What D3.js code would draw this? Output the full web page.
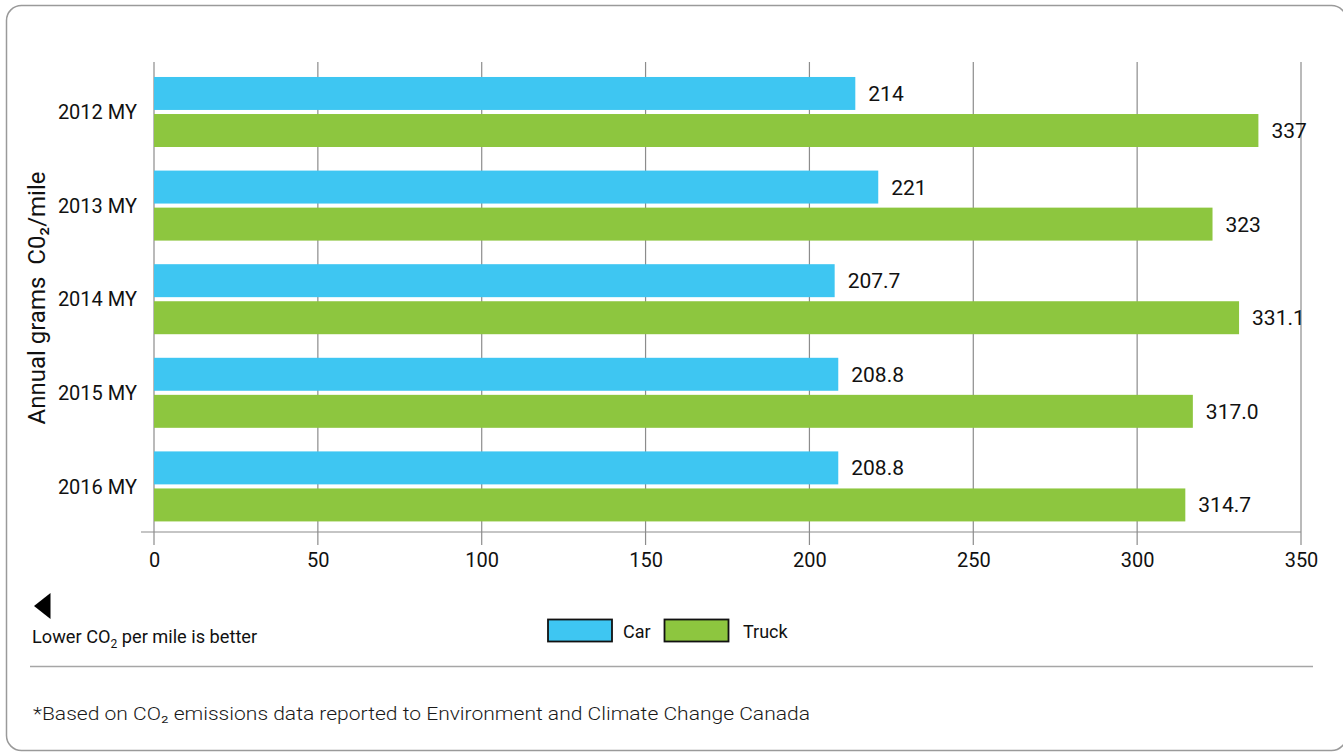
<!DOCTYPE html>
<html>
<head>
<meta charset="utf-8">
<script src="https://cdn.jsdelivr.net/npm/d3@7"></script>
<style>
  html, body { margin: 0; padding: 0; background: #fff; }
  svg { display: block; font-family: Roboto, "Noto Sans", sans-serif; }
</style>
</head>
<body>
<svg id="chart" width="1343" height="754"></svg>
<script>
// Model years and average CO2 per mile by vehicle class
const years = ["2012 MY", "2013 MY", "2014 MY", "2015 MY", "2016 MY"];
const carValues = [214, 221, 207.7, 208.8, 208.8];
const truckValues = [337, 323, 331.1, 317.0, 314.7];
const carLabels = ["214", "221", "207.7", "208.8", "208.8"];
const truckLabels = ["337", "323", "331.1", "317.0", "314.7"];
const seriesNames = ["Car", "Truck"];
const xTicks = [0, 50, 100, 150, 200, 250, 300, 350];

const colors = { Car: "#3ec6f2", Truck: "#8dc63f" };

const rows = years.map((y, i) => ({
  year: y,
  values: [
    { series: "Car", value: carValues[i], label: carLabels[i] },
    { series: "Truck", value: truckValues[i], label: truckLabels[i] }
  ]
}));

const svg = d3.select("#chart");

// Outer rounded frame
svg.append("rect")
  .attr("x", 6.5).attr("y", 5.5)
  .attr("width", 1340).attr("height", 745)
  .attr("rx", 15).attr("ry", 15)
  .attr("fill", "none")
  .attr("stroke", "#9a9a9a")
  .attr("stroke-width", 1.5);

const plotTop = 62, plotBottom = 532;

const x = d3.scaleLinear().domain([0, 350]).range([154, 1301]);

const y = d3.scaleBand()
  .domain(years)
  .range([62, 536.4])
  .paddingInner(0.252)
  .paddingOuter(0.16);

const ySub = d3.scaleBand()
  .domain(seriesNames)
  .range([0, y.bandwidth()])
  .paddingInner(0.11)
  .paddingOuter(0);

// Vertical gridlines with tick extensions below the baseline
const grid = svg.append("g");
grid.selectAll("line")
  .data(xTicks)
  .join("line")
  .attr("x1", d => x(d)).attr("x2", d => x(d))
  .attr("y1", plotTop).attr("y2", plotBottom + 13)
  .attr("stroke", "#8c8c8c")
  .attr("stroke-width", 1.2);

// Baseline
svg.append("line")
  .attr("x1", 141).attr("x2", x(350))
  .attr("y1", plotBottom).attr("y2", plotBottom)
  .attr("stroke", "#8c8c8c")
  .attr("stroke-width", 1.2);

// Bottom axis labels
const xAxis = d3.axisBottom(x).tickValues(xTicks).tickSize(0).tickPadding(0);
const xAxisG = svg.append("g")
  .attr("transform", `translate(0, ${plotBottom})`)
  .call(xAxis);
xAxisG.select(".domain").remove();
xAxisG.selectAll("text")
  .attr("dy", null)
  .attr("y", 35)
  .attr("font-size", 20)
  .attr("font-family", "Roboto, sans-serif")
  .attr("fill", "#111");

// Bars
const groups = svg.append("g").selectAll("g")
  .data(rows)
  .join("g")
  .attr("transform", d => `translate(0, ${y(d.year)})`);

groups.selectAll("rect")
  .data(d => d.values)
  .join("rect")
  .attr("x", x(0))
  .attr("y", d => ySub(d.series))
  .attr("width", d => x(d.value) - x(0))
  .attr("height", ySub.bandwidth())
  .attr("fill", d => colors[d.series]);

groups.selectAll("text")
  .data(d => d.values)
  .join("text")
  .attr("x", d => x(d.value) + 13)
  .attr("y", d => ySub(d.series) + ySub.bandwidth() / 2)
  .attr("dy", "0.36em")
  .attr("font-size", 21)
  .attr("fill", "#111")
  .text(d => d.label);

// Category labels
const yAxis = d3.axisLeft(y).tickSize(0).tickPadding(0);
const yAxisG = svg.append("g")
  .attr("transform", "translate(137, 0)")
  .call(yAxis);
yAxisG.select(".domain").remove();
yAxisG.selectAll("text")
  .attr("dy", "0.36em")
  .attr("y", 0)
  .attr("font-size", 20)
  .attr("font-family", "Roboto, sans-serif")
  .attr("fill", "#111");

// Vertical axis title
svg.append("text")
  .attr("transform", "translate(45, 298) rotate(-90)")
  .attr("text-anchor", "middle")
  .attr("font-size", 24)
  .attr("fill", "#111")
  .attr("xml:space", "preserve")
  .style("white-space", "pre")
  .text("Annual grams  C0\u2082/mile");

// Direction note
svg.append("path")
  .attr("d", "M50.5,593 L50.5,619 L34,606 Z")
  .attr("fill", "#000");

const note = svg.append("text")
  .attr("x", 32).attr("y", 643)
  .attr("font-size", 18.2)
  .attr("fill", "#111");
note.append("tspan").text("Lower CO");
note.append("tspan").attr("font-size", 12).attr("dy", 5).text("2");
note.append("tspan").attr("dy", -5).text(" per mile is better");

// Legend
const legendItems = [
  { name: "Car", rx: 548, tx: 623 },
  { name: "Truck", rx: 664.5, tx: 743 }
];
const legend = svg.append("g");
legend.selectAll("rect")
  .data(legendItems)
  .join("rect")
  .attr("x", d => d.rx).attr("y", 619.5)
  .attr("width", 64).attr("height", 22)
  .attr("fill", d => colors[d.name])
  .attr("stroke", "#111")
  .attr("stroke-width", 1.8);
legend.selectAll("text")
  .data(legendItems)
  .join("text")
  .attr("x", d => d.tx).attr("y", 638)
  .attr("font-size", 18)
  .attr("fill", "#111")
  .text(d => d.name);

// Separator
svg.append("line")
  .attr("x1", 30).attr("x2", 1313)
  .attr("y1", 666.5).attr("y2", 666.5)
  .attr("stroke", "#a6a6a6")
  .attr("stroke-width", 1.5);

// Footnote
svg.append("text")
  .attr("x", 33).attr("y", 720)
  .attr("font-size", 19)
  .attr("font-weight", 300)
  .attr("fill", "#1a1a1a")
  .attr("textLength", 777)
  .attr("lengthAdjust", "spacingAndGlyphs")
  .text("*Based on CO\u2082 emissions data reported to Environment and Climate Change Canada");
</script>
</body>
</html>
